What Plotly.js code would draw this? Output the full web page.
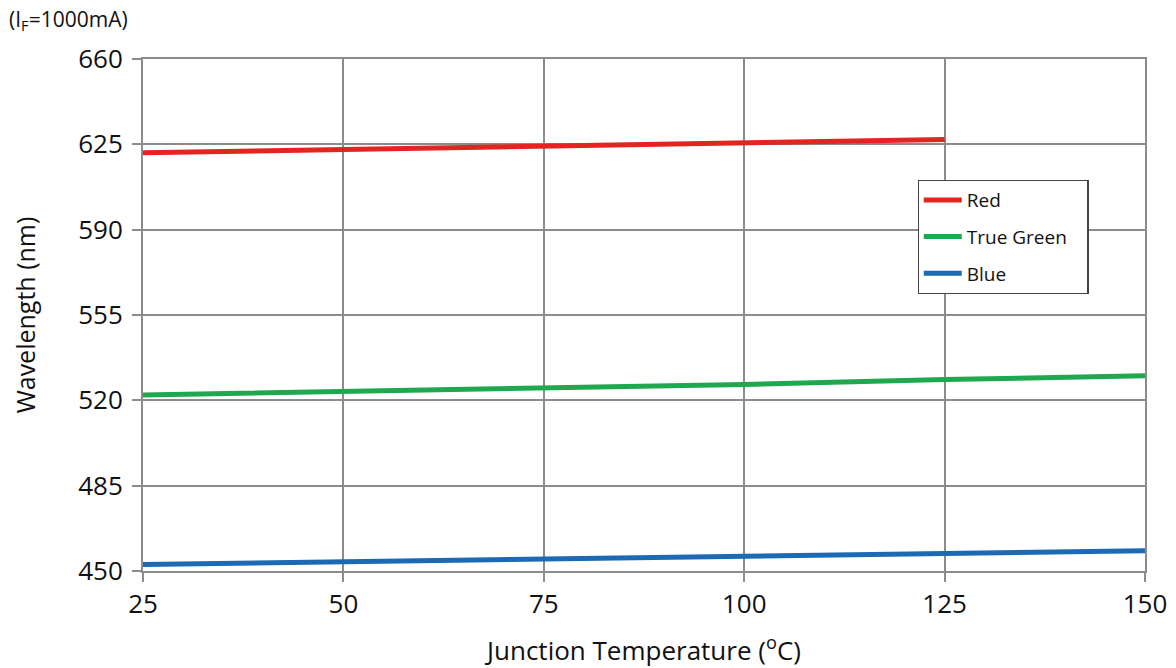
<!DOCTYPE html>
<html>
<head>
<meta charset="utf-8">
<script src="https://cdn.plot.ly/plotly-3.0.1.min.js"></script>
<style>html,body{margin:0;padding:0;background:#fff;}#chart{width:1176px;height:668px;}</style>
</head>
<body>
<div id="chart"></div>
<script>
const tempRed = [25, 50, 75, 100, 125];
const red = [621.5, 623.0, 624.4, 625.8, 627.0];
const tempAll = [25, 50, 75, 100, 125, 150];
const trueGreen = [522.2, 523.6, 525.0, 526.5, 528.5, 530.1];
const blue = [452.7, 453.8, 455.0, 456.1, 457.2, 458.3];
const xTicks = [25, 50, 75, 100, 125, 150];
const yTicks = [450, 485, 520, 555, 590, 625, 660];
const seriesNames = ['Red', 'True Green', 'Blue'];

const font = "'Open Sans', 'Noto Sans', sans-serif";
const gridColor = '#8c8c8c';
const pad = '\u00a0\u00a0\u00a0';

const traces = [
  {x: tempRed, y: red, name: seriesNames[0], mode: 'lines', line: {color: '#e42421', width: 5}, legendgroup: 'a'},
  {x: tempAll, y: trueGreen, name: seriesNames[1] + pad, mode: 'lines', line: {color: '#1fa84f', width: 5}, legendgroup: 'b'},
  {x: tempAll, y: blue, name: seriesNames[2], mode: 'lines', line: {color: '#1b6ab3', width: 5}, legendgroup: 'c'}
];

const layout = {
  width: 1176, height: 668,
  margin: {l: 143, r: 31, t: 59, b: 97},
  paper_bgcolor: '#fff', plot_bgcolor: '#fff',
  font: {family: font, color: '#111'},
  showlegend: true,
  legend: {
    x: 0.773, y: 0.764, xanchor: 'left', yanchor: 'top',
    bgcolor: '#fff', bordercolor: '#444', borderwidth: 1.2,
    font: {size: 19, family: font, color: '#111'},
    tracegroupgap: 9, traceorder: 'grouped', itemwidth: 38
  },
  xaxis: {
    range: [25, 150], tickvals: xTicks, ticktext: xTicks.map(String),
    showgrid: true, gridcolor: gridColor, gridwidth: 2,
    showline: true, linecolor: gridColor, linewidth: 2, mirror: true,
    ticks: 'outside', ticklen: 9, tickwidth: 2, tickcolor: gridColor,
    tickfont: {size: 26, family: font, color: '#111'},
    zeroline: false,
    title: {text: 'Junction Temperature (<sup>o</sup>C)', font: {size: 26, family: font, color: '#111'}, standoff: 22}
  },
  yaxis: {
    range: [450, 660], tickvals: yTicks, ticktext: yTicks.map(String),
    showgrid: true, gridcolor: gridColor, gridwidth: 2,
    showline: true, linecolor: gridColor, linewidth: 2, mirror: true,
    ticks: 'outside', ticklen: 9, tickwidth: 2, tickcolor: gridColor,
    tickfont: {size: 26, family: font, color: '#111'},
    ticklabelstandoff: 4,
    zeroline: false,
    title: {text: 'Wavelength (nm)', font: {size: 25, family: font, color: '#111'}, standoff: 35}
  },
  annotations: [{
    text: '(I<sub>F</sub>=1000mA)', xref: 'paper', yref: 'paper',
    x: -0.136, y: 1.077, xanchor: 'left', yanchor: 'middle', showarrow: false,
    font: {size: 21, family: font, color: '#111'}
  }]
};

Plotly.newPlot('chart', traces, layout, {displayModeBar: false, staticPlot: true});
</script>
</body>
</html>
